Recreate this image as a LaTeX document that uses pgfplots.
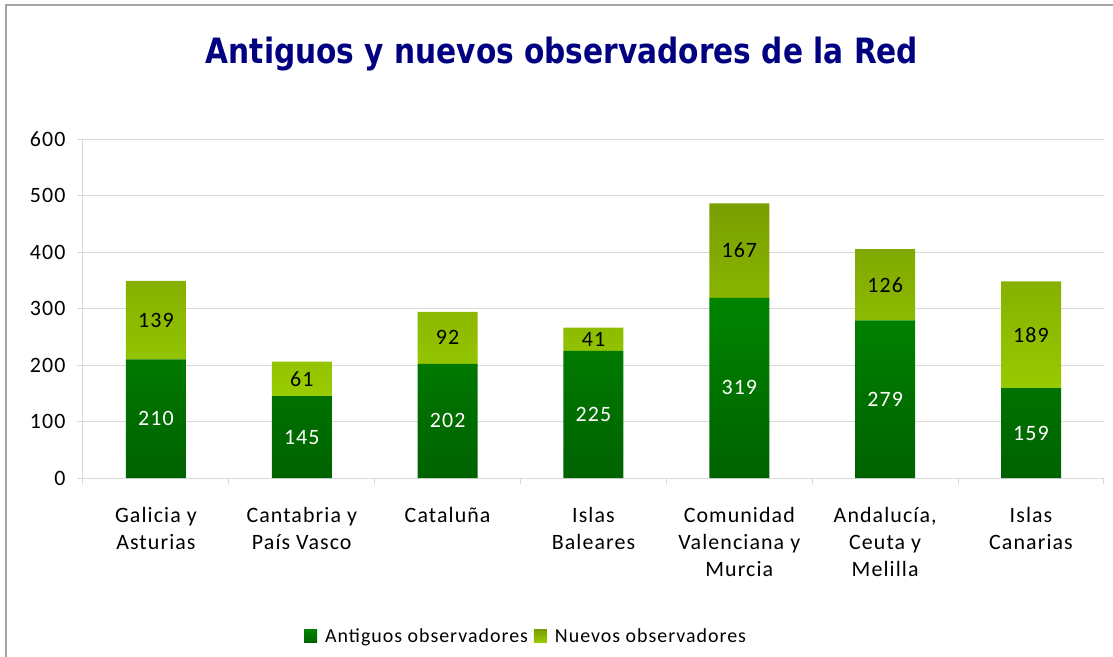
\documentclass[border=0pt]{standalone}
\usepackage{pgfplots}
\usepackage{pgfplotstable}
\pgfplotsset{compat=1.18}
\usepackage{fontspec}
\setmainfont[LetterSpace=5]{Carlito}
\newfontfamily\titlefont{DejaVu Sans}
\definecolor{gridgray}{RGB}{217,217,217}
\definecolor{framegray}{RGB}{166,166,166}
\definecolor{agreentop}{RGB}{0,132,0}
\definecolor{agreenbot}{RGB}{0,98,0}
\definecolor{ngreentop}{RGB}{120,158,0}
\definecolor{ngreenbot}{RGB}{153,204,0}
\definecolor{titleblue}{RGB}{0,0,128}

\pgfplotstableread{
x ant nue
0 210 139
1 145 61
2 202 92
3 225 41
4 319 167
5 279 126
6 159 189
}\datatable

\begin{document}
\begin{tikzpicture}
\useasboundingbox (-83bp,-179bp) rectangle (1030bp,478bp);
\draw[framegray, line width=1.5bp] (-77bp,-190bp) -- (-77bp,473bp) -- (1040bp,473bp);
\node[font=\titlefont\bfseries\fontsize{35}{40}\selectfont, text=titleblue] at (479bp,424bp) {\scalebox{0.85}[1]{Antiguos y nuevos observadores de la Red}};
\begin{axis}[
  at={(0,0)}, anchor=south west,
  scale only axis, width=1021bp, height=339bp,
  xmin=-0.5, xmax=6.5, ymin=0, ymax=600,
  ybar stacked, bar width=60bp,
  axis lines=left, axis line style={draw=gridgray, line width=1bp, -},
  /pgf/number format/assume math mode=true,
  ytick={0,100,...,600},
  ymajorgrids, grid style={gridgray, line width=1bp},
  tick align=outside, major tick length=6bp,
  tick style={draw=gridgray, line width=1bp},
  yticklabel style={font=\fontsize{22}{26}\selectfont, xshift=-8bp},
  xtick={-0.5,0.5,...,6.5},
  xticklabels={},
  extra x ticks={0,1,2,3,4,5,6},
  extra x tick labels={{Galicia y\\Asturias},{Cantabria y\\País Vasco},{Cataluña},{Islas\\Baleares},{Comunidad\\Valenciana y\\Murcia},{Andalucía,\\Ceuta y\\Melilla},{Islas\\Canarias}},
  extra x tick style={major tick length=0pt, grid=none},
  x tick label style={align=center, anchor=north, font=\fontsize{22}{27}\selectfont, yshift=-26bp},
  legend style={at={(0.434,0)}, anchor=center, yshift=-158bp, draw=none, fill=none,
    legend columns=2, font=\fontsize{20}{24}\selectfont,
    /tikz/every even column/.append style={column sep=4bp}},
  legend cell align=left,
  nodes near coords,
]
\addplot[draw=none, top color=agreentop, bottom color=agreenbot,
  point meta=explicit,
  every node near coord/.style={anchor=center, font=\fontsize{22}{26}\selectfont, text=white},
  legend image code/.code={\fill[top color=agreentop, bottom color=agreenbot] (0bp,-6.5bp) rectangle (13bp,6.5bp); \path (19bp,0bp);}]
  table[x=x, y=ant, meta=ant] {\datatable};
\addlegendentry{Antiguos observadores}
\addplot[draw=none, top color=ngreentop, bottom color=ngreenbot,
  point meta=explicit,
  every node near coord/.style={anchor=center, font=\fontsize{22}{26}\selectfont, text=black},
  legend image code/.code={\fill[top color=ngreentop, bottom color=ngreenbot] (0bp,-6.5bp) rectangle (13bp,6.5bp); \path (19bp,0bp);}]
  table[x=x, y=nue, meta=nue] {\datatable};
\addlegendentry{Nuevos observadores}
\end{axis}
\end{tikzpicture}
\end{document}
